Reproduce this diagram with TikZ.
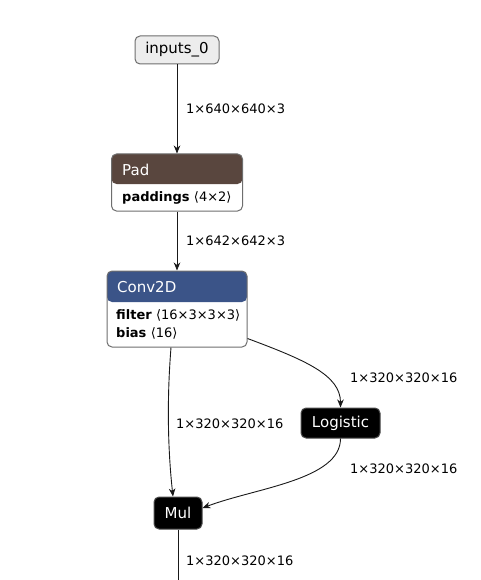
\documentclass[tikz,border=0pt]{standalone}
\usepackage{fontspec}
\setmainfont{DejaVu Sans}
\usetikzlibrary{calc, positioning}
\usetikzlibrary{arrows.meta}

\definecolor{padbrown}{RGB}{89,70,62}
\definecolor{convblue}{RGB}{59,84,136}
\definecolor{edgegray}{RGB}{25,25,25}
\definecolor{boxgray}{RGB}{110,110,110}

\tikzset{
  edge/.style={draw=edgegray, line width=0.9pt, -{Stealth[length=8pt,width=6.5pt,inset=2.5pt]}},
  shapelbl/.style={anchor=west, inner sep=0pt, font=\fontsize{13}{15}\selectfont},
  inbox/.style={draw=boxgray, fill=black!7, rounded corners=5pt, line width=1pt,
    inner sep=0pt, font=\fontsize{15}{17}\selectfont},
  actbox/.style={draw=black!70, fill=black, rounded corners=5pt, line width=1pt,
    inner sep=0pt, text=white, font=\fontsize{15}{17}\selectfont},
  opbox/.style={draw=boxgray, fill=white, rounded corners=5pt, line width=1pt, inner sep=0pt},
  headed/.style 2 args={path picture={
    \fill[#1] (path picture bounding box.north west)
      rectangle ([yshift=-#2]path picture bounding box.north east);}},
  titletxt/.style={anchor=west, inner sep=0pt, text=white, font=\fontsize{15}{17}\selectfont},
  attrtxt/.style={anchor=west, inner sep=0pt, font=\fontsize{13}{15}\selectfont},
}

\begin{document}
\begin{tikzpicture}[x=1pt, y=-1pt]
\useasboundingbox (0,0) rectangle (480,580);

% nodes
\node[inbox, minimum width=84, minimum height=28] (inputs) at (177,50) {inputs\_0};

\node[opbox, headed={padbrown}{30pt}, minimum width=131, minimum height=57] (pad) at (177,182.5) {};
\node[titletxt] (padtitle) at (122,170) {Pad};
\node[attrtxt] (padattr) at (122,198) {\textbf{paddings}\,\,⟨4×2⟩};

\node[opbox, headed={convblue}{31pt}, minimum width=140, minimum height=76] (conv) at (177,309) {};
\node[titletxt] (convtitle) at (117,287) {Conv2D};
\node[attrtxt] (convfilter) at (116,315) {\textbf{filter}\,\,⟨16×3×3×3⟩};
\node[attrtxt] (convbias) at (116,333) {\textbf{bias}\,\,⟨16⟩};

\node[actbox, minimum width=79, minimum height=30] (logistic) at (340.5,423) {Logistic};
\node[actbox, minimum width=48, minimum height=32] (mul) at (178,513) {Mul};
\coordinate (out) at (178,585);

% edges
\draw[edge] (inputs) -- (pad);
\draw[edge] (pad) -- (conv);
\draw[edge] ([xshift=-6pt]conv.south) .. controls (166,410) and (169,460) .. ([xshift=-5pt]mul.north);
\draw[edge] ([yshift=9pt]conv.south east) .. controls (305,360) and (340.5,375) .. (logistic.north);
\draw[edge] (logistic.south) .. controls (340.5,480) and (255,488) .. ([yshift=5pt]mul.east);
\draw[edge, -] (mul) -- (out);

% edge labels
\node[shapelbl] (l1) at (186,109) {1×640×640×3};
\node[shapelbl] (l2) at (186,241) {1×642×642×3};
\node[shapelbl] (l3) at (176,424) {1×320×320×16};
\node[shapelbl] (l4) at (350,378) {1×320×320×16};
\node[shapelbl] (l5) at (350,469) {1×320×320×16};
\node[shapelbl] (l6) at (186,561) {1×320×320×16};
\end{tikzpicture}
\end{document}
